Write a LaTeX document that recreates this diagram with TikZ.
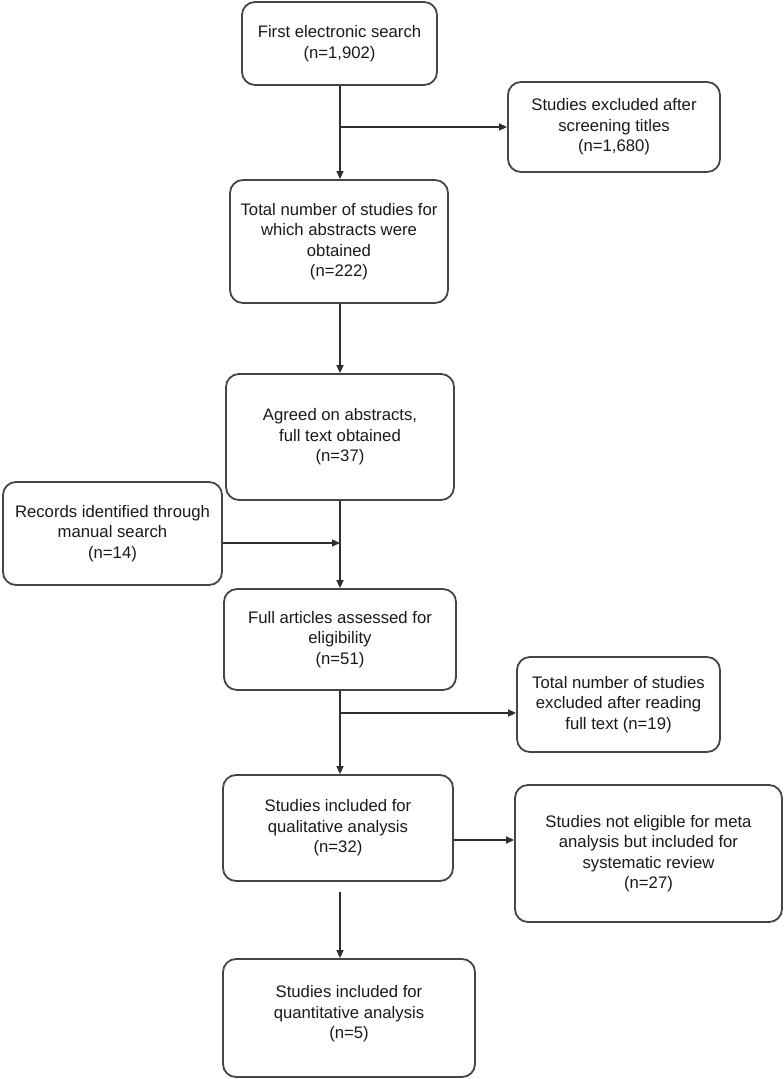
\documentclass[tikz,border=0pt]{standalone}
\usepackage{fontspec}
\setmainfont{Liberation Sans}
\usetikzlibrary{arrows.meta}
\definecolor{boxline}{HTML}{454545}
\definecolor{conn}{HTML}{2E2E2E}
\definecolor{txt}{HTML}{1A1A1A}
\tikzset{
  flowbox/.style={draw=boxline, line width=1.8pt, rounded corners=13pt, fill=white,
    inner sep=0pt, align=center, text=txt,
    font=\fontsize{16.7}{20.5}\selectfont},
  arr/.style={draw=conn, line width=1.5pt, -{Triangle[length=8pt,width=7pt]}}
}
\begin{document}
\begin{tikzpicture}[x=1pt,y=-1pt]
\useasboundingbox (0,0) rectangle (784,1079);
\node[flowbox, minimum width=195pt, minimum height=83pt] (B1) at (339.5,43.5)
  {First electronic search\\(n=1,902)};
\node[flowbox, minimum width=212pt, minimum height=90pt] (B2) at (614,127)
  {Studies excluded after\\screening titles\\(n=1,680)};
\node[flowbox, minimum width=218pt, minimum height=123pt] (B3) at (339,241.5)
  {Total number of studies for\\which abstracts were\\obtained\\(n=222)};
\node[flowbox, minimum width=228pt, minimum height=126pt] (B4) at (340,437)
  {Agreed on abstracts,\\full text obtained\\(n=37)};
\node[flowbox, minimum width=219pt, minimum height=103pt] (B5) at (112.5,533.5)
  {Records identified through\\manual search\\(n=14)};
\node[flowbox, minimum width=232pt, minimum height=101pt] (B6) at (340,639.5)
  {Full articles assessed for\\eligibility\\(n=51)};
\node[flowbox, minimum width=203pt, minimum height=95pt] (B7) at (618.5,704.5)
  {Total number of studies\\excluded after reading\\full text (n=19)};
\node[flowbox, minimum width=230pt, minimum height=106pt] (B8) at (338,828)
  {Studies included for\\qualitative analysis\\(n=32)};
\node[flowbox, minimum width=267pt, minimum height=137pt] (B9) at (648.5,853.5)
  {Studies not eligible for meta\\analysis but included for\\systematic review\\(n=27)};
\node[flowbox, minimum width=252pt, minimum height=118pt] (B10) at (349,1018)
  {Studies included for\\quantitative analysis\\(n=5)\\[-8.5pt]};
% junction coordinates
\coordinate (V) at (340,0);
\coordinate (J1) at (340,127);
\coordinate (J2) at (340,543);
\coordinate (J3) at (340,713);
\coordinate (J4) at (340,840);
% connectors
\draw[arr] (B1.south -| V) -- (B3.north -| V);
\draw[arr] (J1) -- (J1 -| B2.west);
\draw[arr] (B3.south -| V) -- (B4.north -| V);
\draw[arr] (B4.south -| V) -- (B6.north -| V);
\draw[arr] (J2 -| B5.east) -- (J2);
\draw[arr] (B6.south -| V) -- (B8.north -| V);
\draw[arr] (J3) -- (J3 -| B7.west);
\draw[arr] (J4 -| B8.east) -- (J4 -| B9.west);
\draw[arr] ([yshift=-10pt]B8.south -| V) -- (B10.north -| V);
\end{tikzpicture}
\end{document}
